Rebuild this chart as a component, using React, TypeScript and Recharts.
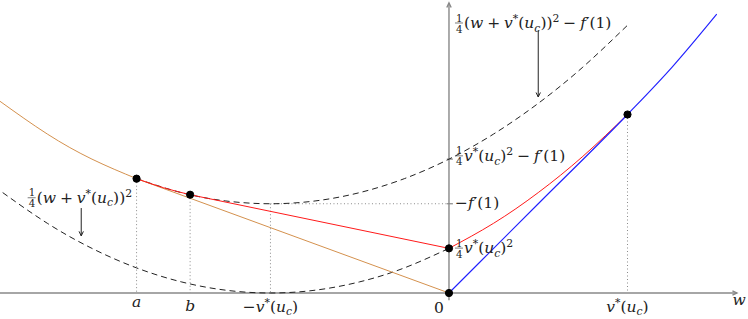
import React from "react";
import {
  ComposedChart,
  Line,
  XAxis,
  YAxis,
  ReferenceLine,
  ReferenceDot,
} from "recharts";

// curve samples (w, value)
const lowerW = [-2.5, -2.25, -2, -1.75, -1.5, -1.25, -1, -0.75, -0.5, -0.25, 0];
const lowerY = [0.5625, 0.3906, 0.25, 0.1406, 0.0625, 0.0156, 0, 0.0156, 0.0625, 0.1406, 0.25];

const upperW = [-1.75, -1.5, -1.25, -1, -0.75, -0.5, -0.25, 0, 0.25, 0.5, 0.75, 1];
const upperY = [0.6406, 0.5625, 0.5156, 0.5, 0.5156, 0.5625, 0.6406, 0.75, 0.8906, 1.0625, 1.2656, 1.5];

const orangeCurveW = [-2.515, -2.25, -2, -1.75];
const orangeCurveY = [1.074, 0.8906, 0.75, 0.6406];
const orangeLineW = [-1.75, 0];
const orangeLineY = [0.6406, 0];

const redArcW = [-1.75, -1.6, -1.45];
const redArcY = [0.6406, 0.59, 0.5506];
const redChordW = [-1.45, 0];
const redChordY = [0.5506, 0.25];
const redCurveW = [0, 0.25, 0.5, 0.75, 1];
const redCurveY = [0.25, 0.3906, 0.5625, 0.7656, 1];

const blueW = [0, 0.5, 1, 1.25, 1.5];
const blueY = [0, 0.5, 1, 1.2656, 1.5625];

// marked points
const dotW = [-1.75, -1.45, 0, 0, 1];
const dotY = [0.6406, 0.5506, 0.25, 0, 1];

// dotted guides: [w1, y1, w2, y2]
const guides = [
  [-1.75, 0.6406, -1.75, 0],
  [-1.45, 0.5506, -1.45, 0],
  [-1, 0.5, -1, 0],
  [-1, 0.5, 0, 0.5],
  [1, 1, 1, 0],
];

// annotation arrows: [w1, y1, w2, y2]
const arrows = [
  [0.5, 1.473, 0.5, 1.098],
  [-2.06, 0.476, -2.06, 0.32],
];

const yTicks = [0.75, 0.5];

const xMin = -2.515;
const xMax = 1.675;
const yMin = -0.1457;
const yMax = 1.6415;

type Seg = [string, "i" | "r" | "sup" | "sub"];

const FONT = "DejaVu Serif";
const INK = "#222";

const sp = "\u2005";
const vstar: Seg[] = [["v", "i"], ["*", "sup"], ["(", "r"], ["u", "i"], ["c", "sub"], [")", "r"]];
const fprime: Seg[] = [["f", "i"], ["\u2032", "r"], ["(1)", "r"]];

const topLabel: Seg[] = [
  ["(", "r"], ["w", "i"], [sp + "+" + sp, "r"], ...vstar, [")", "r"], ["2", "sup"],
  [sp + "\u2212" + sp, "r"], ...fprime,
];
const leftLabel: Seg[] = [["(", "r"], ["w", "i"], [sp + "+" + sp, "r"], ...vstar, [")", "r"], ["2", "sup"]];
const midLabel: Seg[] = [...vstar, ["2", "sup"], [sp + "\u2212" + sp, "r"], ...fprime];
const fLabel: Seg[] = [["\u2212", "r"], ...fprime];
const lowLabel: Seg[] = [...vstar, ["2", "sup"]];

// text labels: anchor (w, y), pixel offsets, fraction prefix, anchor mode
const labels: { w: number; y: number; dx: number; dy: number; frac: boolean; segs: Seg[]; mid?: boolean }[] = [
  { w: 0, y: 1.5, dx: 6, dy: 3, frac: true, segs: topLabel },
  { w: -2.36, y: 0.504, dx: 0, dy: 0, frac: true, segs: leftLabel },
  { w: 0, y: 0.75, dx: 6, dy: 2, frac: true, segs: midLabel },
  { w: 0, y: 0.5, dx: 6, dy: 4, frac: false, segs: fLabel },
  { w: 0, y: 0.25, dx: 6, dy: 5, frac: true, segs: lowLabel },
  { w: -1.75, y: 0, dx: 0, dy: 14, frac: false, segs: [["a", "i"]], mid: true },
  { w: -1.45, y: 0, dx: 0, dy: 18, frac: false, segs: [["b", "i"]], mid: true },
  { w: -1, y: 0, dx: 0, dy: 19, frac: false, segs: [["\u2212", "r"], ...vstar], mid: true },
  { w: 0, y: 0, dx: -10, dy: 20, frac: false, segs: [["0", "r"]], mid: true },
  { w: 1, y: 0, dx: 0, dy: 19, frac: false, segs: vstar, mid: true },
  { w: 1.625, y: 0, dx: 0, dy: 12, frac: false, segs: [["w", "i"]], mid: true },
];

const SIZE = 15.5;

const toRows = (key: string, ws: number[], ys: number[]) => ws.map((w, i) => ({ w, [key]: ys[i] }));

const renderSegs = (segs: Seg[], size: number) => {
  let shift = 0;
  return segs.map(([t, k], i) => {
    const target = k === "sup" ? -0.4 * size : k === "sub" ? 0.22 * size : 0;
    const dy = target - shift;
    shift = target;
    return (
      <tspan
        key={i}
        dy={dy}
        fontSize={k === "sup" || k === "sub" ? size * 0.7 : size}
        fontStyle={k === "r" || k === "sup" ? "normal" : "italic"}
      >
        {t}
      </tspan>
    );
  });
};

const MathLabel = (props: any) => {
  const { cx, cy, item } = props;
  const x = cx + item.dx;
  const y = cy + item.dy;
  const fw = 8;
  const small = SIZE * 0.66;
  return (
    <g>
      {item.frac && (
        <line x1={x} x2={x + fw} y1={y - 0.34 * SIZE} y2={y - 0.34 * SIZE} stroke={INK} strokeWidth={0.6} />
      )}
      <text
        x={x}
        y={y}
        fontSize={SIZE}
        textAnchor={item.mid ? "middle" : "start"}
        style={{ fontFamily: FONT, fill: INK }}
      >
        {item.frac && (
          <tspan x={x + 1} y={y - 0.43 * SIZE} fontSize={small}>1</tspan>
        )}
        {item.frac && (
          <tspan x={x + 1} y={y + 0.28 * SIZE} fontSize={small}>4</tspan>
        )}
        {item.frac ? (
          <tspan x={x + fw + 1} y={y}>{renderSegs(item.segs, SIZE)}</tspan>
        ) : (
          renderSegs(item.segs, SIZE)
        )}
      </text>
    </g>
  );
};

const arrowShape = (color: string, width: number) => (p: any) => {
  const { x1, y1, x2, y2 } = p;
  const ang = Math.atan2(y2 - y1, x2 - x1);
  const L = 5;
  const a1 = ang + Math.PI - 0.45;
  const a2 = ang + Math.PI + 0.45;
  return (
    <g stroke={color} strokeWidth={width} fill="none">
      <line x1={x1} y1={y1} x2={x2} y2={y2} />
      <polyline
        points={`${x2 + L * Math.cos(a1)},${y2 + L * Math.sin(a1)} ${x2},${y2} ${x2 + L * Math.cos(a2)},${y2 + L * Math.sin(a2)}`}
      />
    </g>
  );
};

const curve = (
  id: string,
  ws: number[],
  ys: number[],
  color: string,
  kind: "natural" | "linear" | "monotoneX",
  dash?: string,
  width = 1
) => (
  <Line
    key={id}
    id={id}
    name={id}
    data={toRows(id, ws, ys)}
    dataKey={id}
    type={kind}
    stroke={color}
    strokeWidth={width}
    strokeDasharray={dash}
    dot={false}
    activeDot={false}
    isAnimationActive={false}
  />
);

export default function App() {
  return (
    <div style={{ position: "absolute", left: 0, top: 0, background: "#fff" }}>
      <ComposedChart width={748} height={319} margin={{ top: 0, right: 0, bottom: 0, left: 0 }}>
        <XAxis type="number" dataKey="w" domain={[xMin, xMax]} hide allowDataOverflow />
        <YAxis type="number" domain={[yMin, yMax]} hide allowDataOverflow />

        {guides.map((g, i) => (
          <ReferenceLine
            key={"g" + i}
            segment={[{ x: g[0], y: g[1] }, { x: g[2], y: g[3] }]}
            stroke="#8a8a8a"
            strokeWidth={1}
            strokeDasharray="1 2.5"
            ifOverflow="visible"
          />
        ))}

        {/* axes */}
        <ReferenceLine
          segment={[{ x: xMin, y: 0 }, { x: 1.613, y: 0 }]}
          shape={arrowShape("#888", 1.4)}
          ifOverflow="visible"
        />
        <ReferenceLine
          segment={[{ x: 0, y: -0.04 }, { x: 0, y: 1.625 }]}
          shape={arrowShape("#888", 1.4)}
          ifOverflow="visible"
        />
        {yTicks.map((t) => (
          <ReferenceLine
            key={"t" + t}
            segment={[{ x: -0.012, y: t }, { x: 0.022, y: t }]}
            stroke="#888"
            strokeWidth={1.2}
            ifOverflow="visible"
          />
        ))}

        {curve("lower", lowerW, lowerY, INK, "natural", "6 4")}
        {curve("upper", upperW, upperY, INK, "natural", "6 4")}
        {curve("orangeCurve", orangeCurveW, orangeCurveY, "#d4914e", "natural")}
        {curve("orangeLine", orangeLineW, orangeLineY, "#d4914e", "linear")}
        {curve("redArc", redArcW, redArcY, "#ff1a1a", "natural")}
        {curve("redChord", redChordW, redChordY, "#ff1a1a", "linear")}
        {curve("redCurve", redCurveW, redCurveY, "#ff1a1a", "natural")}
        {curve("blue", blueW, blueY, "#2020ff", "monotoneX", undefined, 1.15)}

        {arrows.map((a, i) => (
          <ReferenceLine
            key={"a" + i}
            segment={[{ x: a[0], y: a[1] }, { x: a[2], y: a[3] }]}
            shape={arrowShape(INK, 1)}
            ifOverflow="visible"
          />
        ))}

        {dotW.map((w, i) => (
          <ReferenceDot
            key={"d" + i}
            x={w}
            y={dotY[i]}
            r={3.6}
            fill="#000"
            stroke="#000"
            ifOverflow="visible"
          />
        ))}

        {labels.map((item, i) => (
          <ReferenceDot
            key={"l" + i}
            x={item.w}
            y={item.y}
            r={0}
            ifOverflow="visible"
            shape={(p: any) => <MathLabel cx={p.cx} cy={p.cy} item={item} />}
          />
        ))}
      </ComposedChart>
    </div>
  );
}
